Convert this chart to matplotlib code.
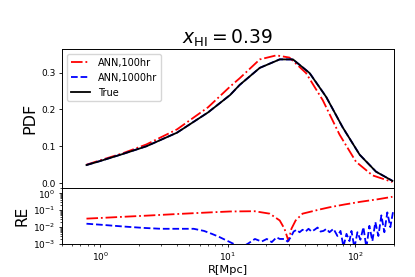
import numpy as np
import matplotlib
matplotlib.use("Agg")
import matplotlib.pyplot as plt

# top panel: PDF of bubble sizes
R_pdf = [0.78, 1.0, 1.5, 2.3, 4.0, 7.0, 10.4, 12.4, 17.8, 25.5, 32.4,
         43.7, 59.0, 79.6, 108.0, 145.0, 195.0]
pdf_true = [0.049, 0.060, 0.079, 0.100, 0.137, 0.192, 0.239, 0.267, 0.313,
            0.336, 0.336, 0.299, 0.234, 0.151, 0.077, 0.031, 0.006]
pdf_1000 = [0.0492, 0.0601, 0.0791, 0.1001, 0.1372, 0.1921, 0.2392, 0.2668,
            0.3131, 0.3362, 0.3358, 0.2993, 0.2342, 0.1507, 0.0771, 0.0311, 0.0061]

R_100 = [0.78, 1.0, 1.5, 2.3, 4.0, 7.0, 10.4, 12.4, 17.8, 24.0, 30.4,
         41.0, 55.5, 75.0, 101.0, 136.0, 195.0]
pdf_100 = [0.050, 0.062, 0.081, 0.105, 0.146, 0.206, 0.262, 0.285, 0.336,
           0.347, 0.341, 0.299, 0.225, 0.132, 0.058, 0.021, 0.003]

# bottom panel: relative error
R_re100 = [0.78, 1.0, 1.5, 2.3, 4.0, 7.0, 10.4, 16.2, 21.3, 25.5, 27.8, 29.9,
           31.5, 34.0, 38.5, 52.0, 62.5, 82.0, 110.0, 150.0, 195.0]
re_100 = [0.032, 0.035, 0.041, 0.048, 0.060, 0.074, 0.085, 0.088, 0.063, 0.025,
          0.008, 0.0015, 0.008, 0.025, 0.063, 0.11, 0.15, 0.22, 0.32, 0.45, 0.63]

R_re1000 = [0.78, 1.0, 1.5, 2.2, 3.0, 4.0, 5.4, 6.5, 7.5, 8.5, 9.5, 10.4, 11.5,
            12.5, 13.5, 14.5, 16.3, 18.4, 20.2, 22.1, 24.1, 25.5, 27.9, 29.4,
            31.1, 32.8, 34.6, 36.5, 38.5, 40.7, 42.9, 45.3, 47.8, 50.5, 53.3,
            56.2, 59.3, 62.6, 67.3, 72.3, 76.4, 80.6, 85.1, 89.8, 93.1, 98.2,
            103.7, 109.4, 115.5, 121.9, 128.6, 135.8, 143.3, 151.3, 159.7,
            168.6, 177.8, 187.7, 198.1]
re_1000 = [0.016, 0.014, 0.011, 0.009, 0.008, 0.008, 0.008, 0.006, 0.004,
           0.0027, 0.0018, 0.0013, 0.0009, 0.0007, 0.0008, 0.0011, 0.002,
           0.0014, 0.002, 0.0013, 0.0025, 0.002, 0.002, 0.0014, 0.0025, 0.0055,
           0.007, 0.005, 0.007, 0.0055, 0.008, 0.0055, 0.007, 0.0095, 0.0055,
           0.006, 0.008, 0.005, 0.008, 0.003, 0.006, 0.0007, 0.004, 0.0015,
           0.006, 0.0006, 0.005, 0.0018, 0.01, 0.0006, 0.012, 0.0015, 0.02,
           0.003, 0.05, 0.005, 0.075, 0.01, 0.1]

fig = plt.figure(figsize=(4.15, 2.77), dpi=100)
gs = fig.add_gridspec(2, 1, height_ratios=[5, 2], hspace=0,
                      left=0.149, right=0.949, top=0.823, bottom=0.119)
ax1 = fig.add_subplot(gs[0])
ax2 = fig.add_subplot(gs[1], sharex=ax1)

lw = 1.3
ax1.plot(R_100, pdf_100, "r-.", lw=lw, label="ANN,100hr")
ax1.plot(R_pdf, pdf_1000, "b--", lw=lw, label="ANN,1000hr")
ax1.plot(R_pdf, pdf_true, "k-", lw=lw, label="True")
ax1.set_xscale("log")
ax1.set_xlim(0.5, 200)
ax1.set_ylabel("PDF", fontsize=11.5, labelpad=3)
ax1.set_title(r"$x_{\rm HI} = 0.39$", fontsize=13.5, pad=4)
ax1.legend(loc="upper left", fontsize=7)

ax2.plot(R_re100, re_100, "r-.", lw=lw)
ax2.plot(R_re1000, re_1000, "b--", lw=lw)
ax2.set_yscale("log")
ax2.set_ylim(1e-3, 2)
ax2.set_xlim(0.5, 200)
ax2.set_ylabel("RE", fontsize=11, labelpad=3)
ax2.set_xlabel("R[Mpc]", fontsize=8.2, labelpad=2)

for ax in (ax1, ax2):
    ax.tick_params(which="major", labelsize=6.5, length=2.5, width=0.6, pad=2)
    ax.tick_params(which="minor", length=1.5, width=0.5)
    for s in ax.spines.values():
        s.set_linewidth(0.7)
ax1.tick_params(labelbottom=False)

fig.savefig("out.png", dpi=100)
plt.close(fig)
